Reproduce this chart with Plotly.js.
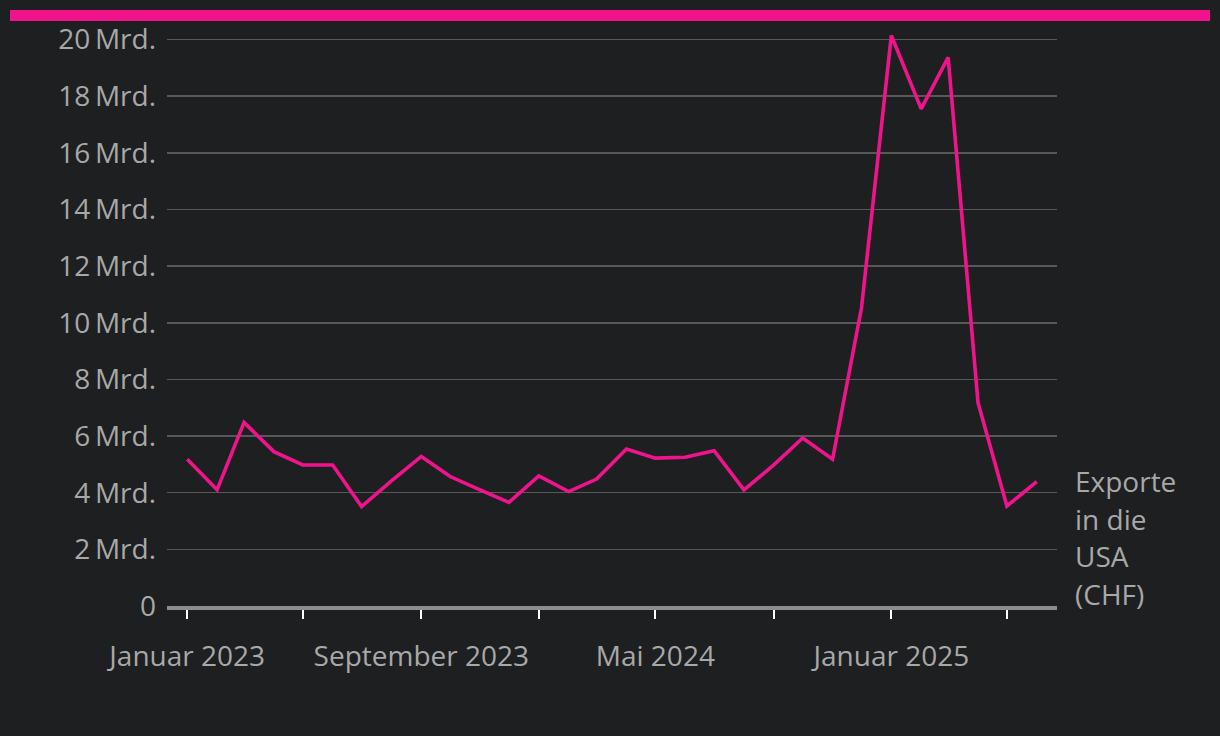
<!DOCTYPE html>
<html>
<head>
<meta charset="utf-8">
<script src="https://cdn.plot.ly/plotly-3.0.1.min.js"></script>
<style>
html,body{margin:0;padding:0;background:#1e1f21;}
#bar{position:absolute;left:10px;top:10px;width:1200px;height:11px;background:#f0148c;}
#chart{position:absolute;left:0;top:0;width:1220px;height:736px;}
</style>
</head>
<body>
<div id="chart"></div>
<div id="bar"></div>
<script>
const months = ['2023-01-01','2023-02-01','2023-03-01','2023-04-01','2023-05-01','2023-06-01','2023-07-01','2023-08-01','2023-09-01','2023-10-01','2023-11-01','2023-12-01',
  '2024-01-01','2024-02-01','2024-03-01','2024-04-01','2024-05-01','2024-06-01','2024-07-01','2024-08-01','2024-09-01','2024-10-01','2024-11-01','2024-12-01',
  '2025-01-01','2025-02-01','2025-03-01','2025-04-01','2025-05-01','2025-06-01'];
const exportsUSA = [5.18,4.10,6.48,5.45,4.98,4.98,3.51,4.42,5.28,4.57,4.10,3.66,
  4.59,4.04,4.48,5.54,5.22,5.25,5.48,4.10,4.98,5.93,5.18,10.52,
  20.14,17.55,19.37,7.18,3.53,4.39];
const xTickVals = ['2023-01-01','2023-05-01','2023-09-01','2024-01-01','2024-05-01','2024-09-01','2025-01-01','2025-05-01'];
const xTickText = ['Januar 2023','','September 2023','','Mai 2024','','Januar 2025',''];
const yTickVals = [0,2,4,6,8,10,12,14,16,18,20];
const yTickText = ['0','2\u2009Mrd.','4\u2009Mrd.','6\u2009Mrd.','8\u2009Mrd.','10\u2009Mrd.','12\u2009Mrd.','14\u2009Mrd.','16\u2009Mrd.','18\u2009Mrd.','20\u2009Mrd.'];
const seriesLabelLines = ['Exporte','in die','USA','(CHF)'];

const FONT = '"Open Sans", sans-serif';
const TXT = '#a8a8a8';
const FS = 28;

const annotations = seriesLabelLines.map((t, i) => ({
  xref: 'paper', yref: 'paper', x: 1, y: 0, xanchor: 'left', yanchor: 'middle',
  xshift: 16, yshift: 125 - i * 37.7,
  text: t, showarrow: false, align: 'left',
  font: {family: FONT, color: TXT, size: FS}
}));

Plotly.newPlot('chart', [{
  x: months, y: exportsUSA, type: 'scatter', mode: 'lines',
  line: {color: '#f0148c', width: 3.6},
  hoverinfo: 'skip'
}], {
  width: 1220, height: 736,
  paper_bgcolor: '#1e1f21', plot_bgcolor: '#1e1f21',
  margin: {l: 167, r: 163, t: 31, b: 130},
  showlegend: false,
  font: {family: FONT, color: TXT, size: FS},
  xaxis: {
    type: 'date', range: ['2022-12-11', '2025-06-22'],
    tickmode: 'array', tickvals: xTickVals, ticktext: xTickText,
    ticks: 'outside', ticklen: 9, tickwidth: 2, tickcolor: '#ffffff',
    showline: true, linecolor: '#8c8c8c', linewidth: 4,
    showgrid: false, zeroline: false,
    ticklabelstandoff: 13,
    tickfont: {family: FONT, color: TXT, size: FS}
  },
  yaxis: {
    range: [0, 20.3], tickmode: 'array', tickvals: yTickVals, ticktext: yTickText,
    showgrid: true, gridcolor: '#585858', gridwidth: 1.5,
    zeroline: false, showline: false, ticks: '',
    ticklabelstandoff: 10,
    tickfont: {family: FONT, color: TXT, size: FS}
  },
  annotations: annotations
}, {displayModeBar: false, staticPlot: true});
</script>
</body>
</html>
